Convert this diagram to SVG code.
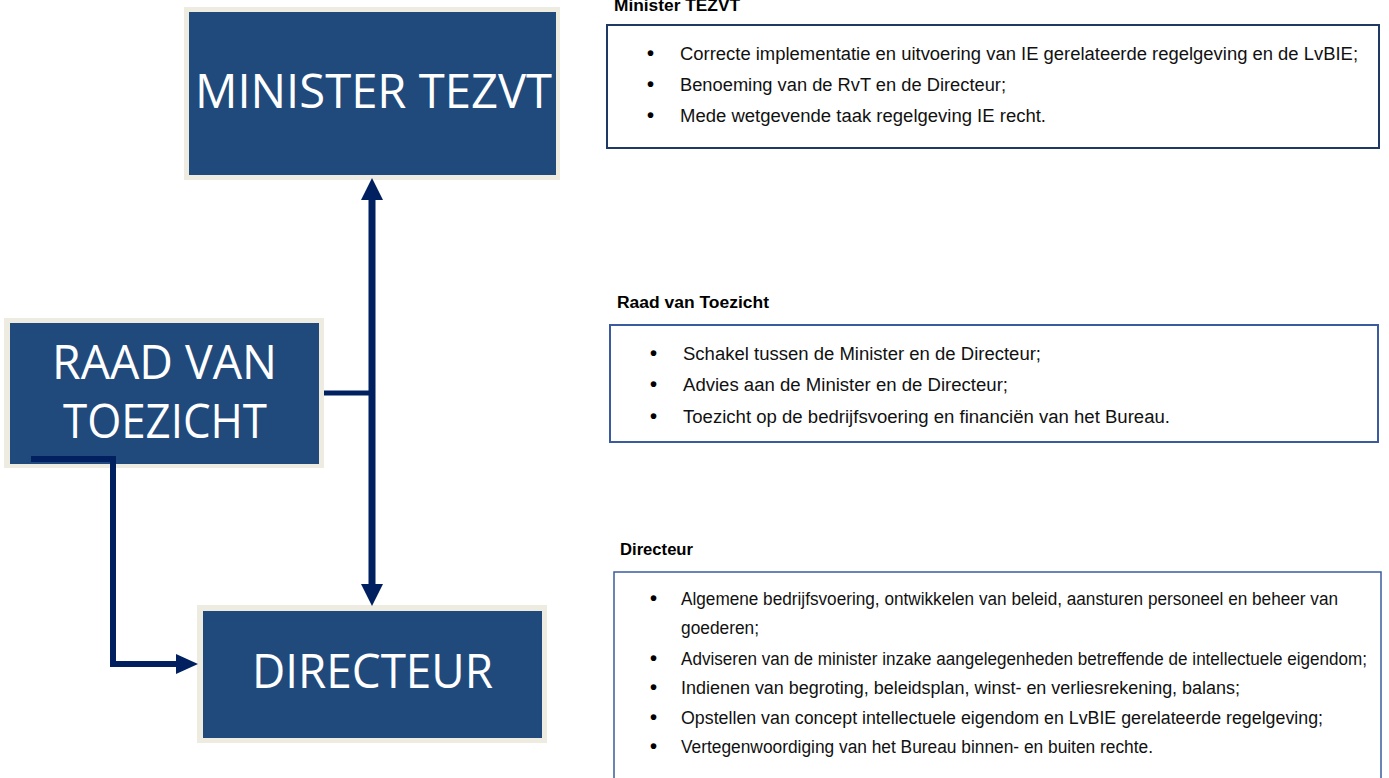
<svg xmlns="http://www.w3.org/2000/svg" width="1389" height="778" viewBox="0 0 1389 778">
<style>
.frame{fill:#EEECE1}
.box{fill:#214A7C}
.title{font-family:"Open Sans","Noto Sans",sans-serif;font-size:47px;fill:#FFFFFF;text-anchor:start}
.head{font-family:"Liberation Sans",Arial,sans-serif;font-size:16px;font-weight:bold;fill:#000000}
.body{font-family:"Liberation Sans",Arial,sans-serif;font-size:18px;fill:#111111}
.bul{font-family:"Liberation Sans",Arial,sans-serif;font-size:20px;font-weight:bold;fill:#000000}
.conn{fill:none;stroke:#002060;stroke-linejoin:miter}
</style>
<defs>
<marker id="arr" markerUnits="userSpaceOnUse" markerWidth="22" markerHeight="22" refX="0" refY="11" orient="auto-start-reverse" viewBox="0 0 22 22">
<path d="M0,0 L22,11 L0,22 z" fill="#002060"/>
</marker>
<marker id="arr2" markerUnits="userSpaceOnUse" markerWidth="22" markerHeight="22" refX="0" refY="11" orient="auto" viewBox="0 0 22 22">
<path d="M0,1 L22,11 L0,21 z" fill="#002060"/>
</marker>
</defs>
<rect width="1389" height="778" fill="#FFFFFF"/>

<g id="node-minister">
<rect class="frame" x="184" y="7" width="376" height="173"/>
<rect class="box" x="189" y="12" width="367" height="163"/>
<text class="title" x="195" y="108" textLength="357" lengthAdjust="spacingAndGlyphs">MINISTER TEZVT</text>
</g>

<g id="node-raad">
<rect class="frame" x="4" y="318" width="320" height="150"/>
<rect class="box" x="10" y="323" width="309" height="141"/>
<text class="title" x="52" y="379" textLength="225" lengthAdjust="spacingAndGlyphs">RAAD VAN</text>
<text class="title" x="63" y="438" textLength="204" lengthAdjust="spacingAndGlyphs">TOEZICHT</text>
</g>

<g id="node-directeur">
<rect class="frame" x="197" y="605" width="350" height="138"/>
<rect class="box" x="203" y="611" width="339" height="127"/>
<text class="title" x="252" y="688" textLength="241" lengthAdjust="spacingAndGlyphs">DIRECTEUR</text>
</g>

<g id="connectors">
<path class="conn" d="M372,200 L372,584" stroke-width="7" marker-start="url(#arr)" marker-end="url(#arr)"/>
<path class="conn" d="M324,393 L372,393" stroke-width="5"/>
<path class="conn" d="M31,459 L113,459 L113,664 L176,664" stroke-width="6" marker-end="url(#arr2)"/>
</g>

<g id="panel-minister">
<text class="head" x="614" y="11" textLength="126" lengthAdjust="spacingAndGlyphs">Minister TEZVT</text>
<rect x="607" y="25" width="772" height="123" fill="none" stroke="#1F3864" stroke-width="2"/>
<text class="bul" x="647" y="60">•</text>
<text class="body" x="680" y="60" textLength="678" lengthAdjust="spacingAndGlyphs">Correcte implementatie en uitvoering van IE gerelateerde regelgeving en de LvBIE;</text>
<text class="bul" x="647" y="91">•</text>
<text class="body" x="680" y="91" textLength="326" lengthAdjust="spacingAndGlyphs">Benoeming van de RvT en de Directeur;</text>
<text class="bul" x="647" y="122">•</text>
<text class="body" x="680" y="122" textLength="366" lengthAdjust="spacingAndGlyphs">Mede wetgevende taak regelgeving IE recht.</text>
</g>

<g id="panel-raad">
<text class="head" x="617" y="308" textLength="152" lengthAdjust="spacingAndGlyphs">Raad van Toezicht</text>
<rect x="610" y="325" width="768" height="117" fill="none" stroke="#3A5C9E" stroke-width="2"/>
<text class="bul" x="650" y="360">•</text>
<text class="body" x="683" y="360" textLength="358" lengthAdjust="spacingAndGlyphs">Schakel tussen de Minister en de Directeur;</text>
<text class="bul" x="650" y="391">•</text>
<text class="body" x="683" y="391" textLength="325" lengthAdjust="spacingAndGlyphs">Advies aan de Minister en de Directeur;</text>
<text class="bul" x="650" y="423">•</text>
<text class="body" x="683" y="423" textLength="487" lengthAdjust="spacingAndGlyphs">Toezicht op de bedrijfsvoering en financiën van het Bureau.</text>
</g>

<g id="panel-directeur">
<text class="head" x="620" y="555" textLength="73" lengthAdjust="spacingAndGlyphs">Directeur</text>
<path d="M614,790 L614,572 L1381,572 L1381,790" fill="none" stroke="#3A5C9E" stroke-width="1.5"/>
<text class="bul" x="650" y="605">•</text>
<text class="body" x="681" y="605" textLength="657" lengthAdjust="spacingAndGlyphs">Algemene bedrijfsvoering, ontwikkelen van beleid, aansturen personeel en beheer van</text>
<text class="body" x="681" y="634" textLength="78" lengthAdjust="spacingAndGlyphs">goederen;</text>
<text class="bul" x="650" y="665">•</text>
<text class="body" x="681" y="665" textLength="686" lengthAdjust="spacingAndGlyphs">Adviseren van de minister inzake aangelegenheden betreffende de intellectuele eigendom;</text>
<text class="bul" x="650" y="694">•</text>
<text class="body" x="681" y="694" textLength="559" lengthAdjust="spacingAndGlyphs">Indienen van begroting, beleidsplan, winst- en verliesrekening, balans;</text>
<text class="bul" x="650" y="724">•</text>
<text class="body" x="681" y="724" textLength="642" lengthAdjust="spacingAndGlyphs">Opstellen van concept intellectuele eigendom en LvBIE gerelateerde regelgeving;</text>
<text class="bul" x="650" y="753">•</text>
<text class="body" x="681" y="753" textLength="472" lengthAdjust="spacingAndGlyphs">Vertegenwoordiging van het Bureau binnen- en buiten rechte.</text>
</g>
</svg>
